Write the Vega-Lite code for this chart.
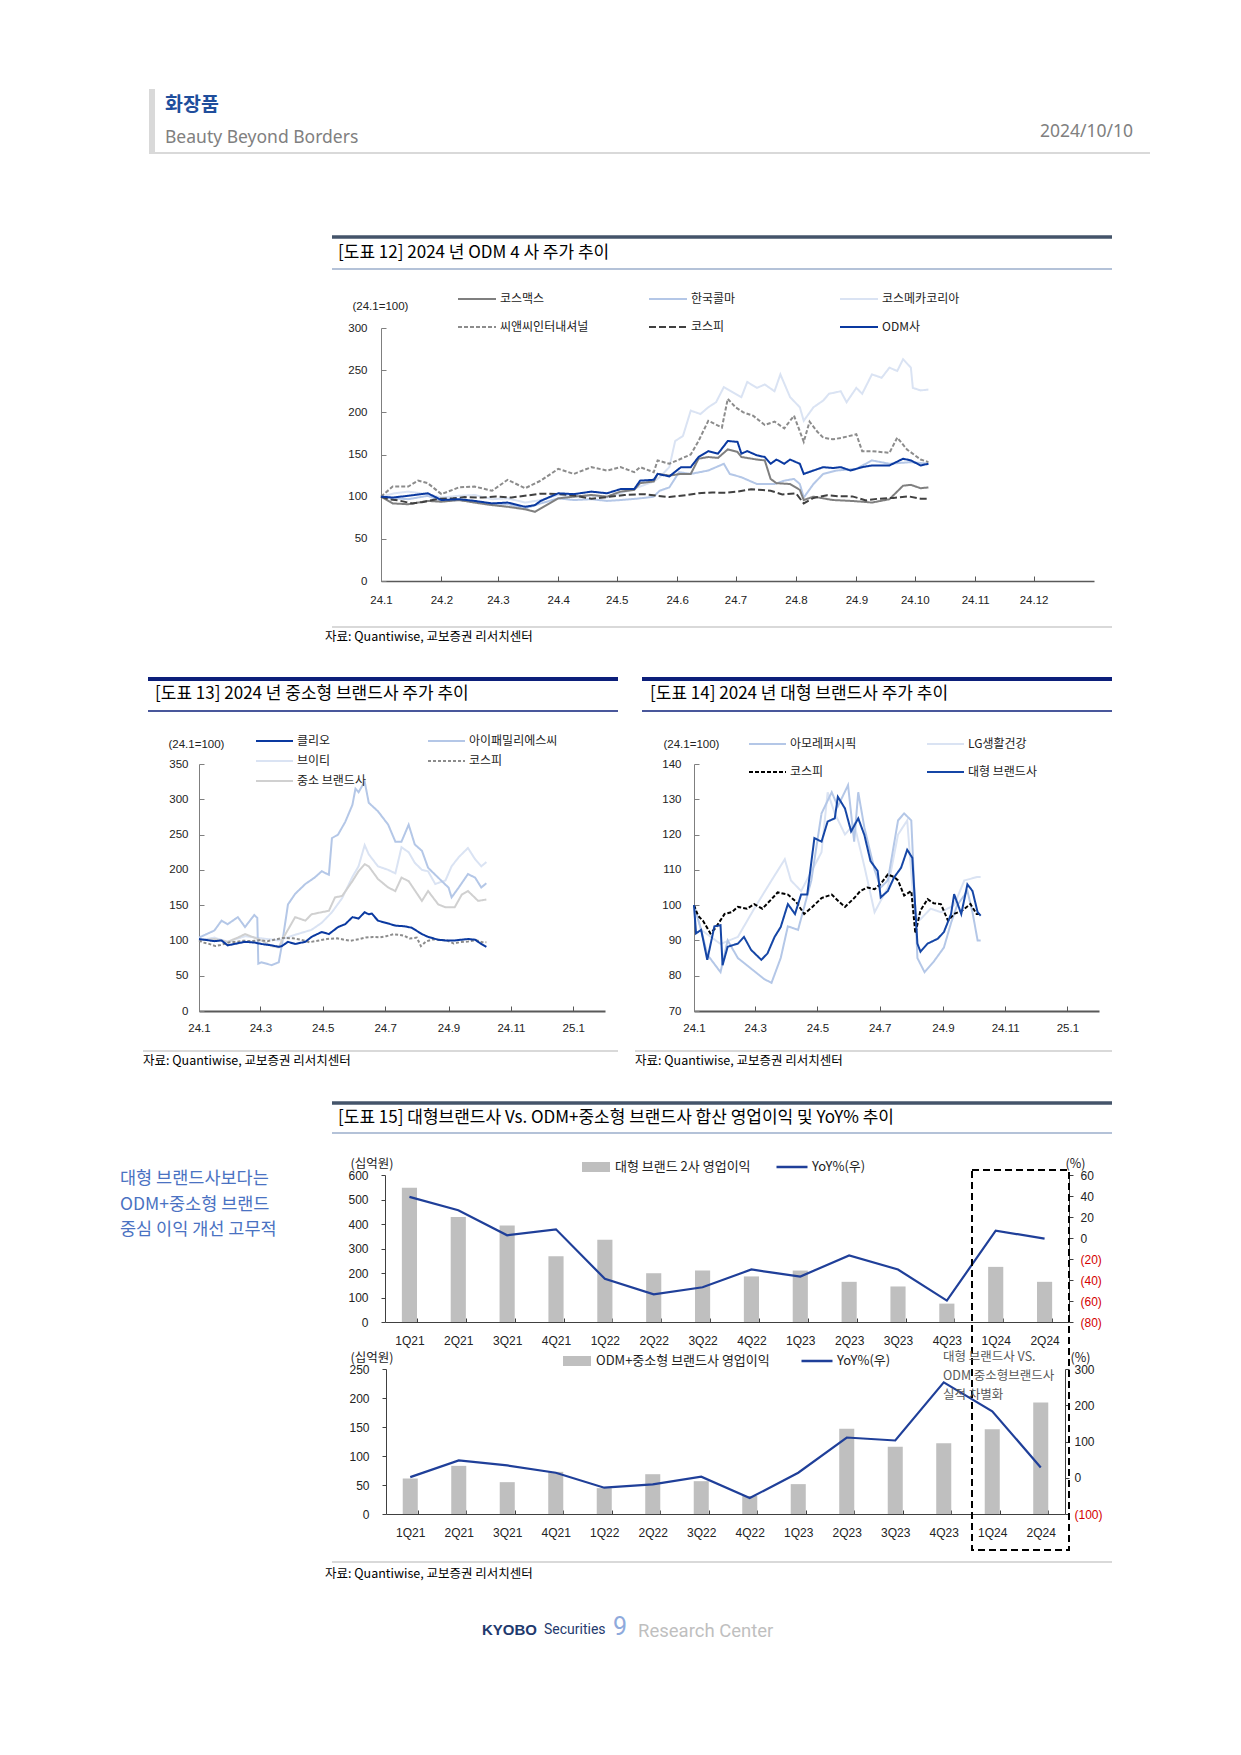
{
"$schema": "https://vega.github.io/schema/vega-lite/v6.json",
"width": 1241, "height": 1755, "autosize": {"type": "none"}, "padding": 0, "background": "white",
"config": {"view": {"stroke": null}, "font": "Noto Sans CJK KR",
 "axis": {"grid": false, "labelFont": "Liberation Sans", "labelFontSize": 12, "labelColor": "#222222", "domainColor": "#7f7f7f", "tickColor": "#7f7f7f", "labelFlush": false, "labelOverlap": false, "titleFont": "Noto Sans CJK KR", "titleFontWeight": "normal", "titleColor": "#222222", "titleFontSize": 12},
 "legend": {"labelFont": "Noto Sans CJK KR", "labelFontSize": 12, "labelColor": "#222222", "padding": 0, "labelLimit": 0}},
"datasets": {
"kospi": [
{"series":"코스피","date":"2024-01-01","value":100},{"series":"코스피","date":"2024-01-05","value":97},{"series":"코스피","date":"2024-01-10","value":95.5},{"series":"코스피","date":"2024-01-17","value":92},{"series":"코스피","date":"2024-01-22","value":93.5},{"series":"코스피","date":"2024-01-31","value":97.5},{"series":"코스피","date":"2024-02-07","value":98},{"series":"코스피","date":"2024-02-13","value":99.5},{"series":"코스피","date":"2024-02-22","value":99},{"series":"코스피","date":"2024-02-29","value":100.3},{"series":"코스피","date":"2024-03-08","value":99},{"series":"코스피","date":"2024-03-17","value":101.7},{"series":"코스피","date":"2024-03-23","value":103.6},{"series":"코스피","date":"2024-04-02","value":103},{"series":"코스피","date":"2024-04-10","value":101},{"series":"코스피","date":"2024-04-18","value":97.5},{"series":"코스피","date":"2024-04-26","value":99.5},{"series":"코스피","date":"2024-05-05","value":102},{"series":"코스피","date":"2024-05-15","value":103},{"series":"코스피","date":"2024-05-22","value":101},{"series":"코스피","date":"2024-05-28","value":99.5},{"series":"코스피","date":"2024-06-06","value":102},{"series":"코스피","date":"2024-06-12","value":104},{"series":"코스피","date":"2024-06-19","value":105},{"series":"코스피","date":"2024-06-26","value":104.5},{"series":"코스피","date":"2024-07-02","value":106},{"series":"코스피","date":"2024-07-09","value":108.7},{"series":"코스피","date":"2024-07-15","value":108},{"series":"코스피","date":"2024-07-19","value":107},{"series":"코스피","date":"2024-07-25","value":102.7},{"series":"코스피","date":"2024-08-01","value":104},{"series":"코스피","date":"2024-08-05","value":92},{"series":"코스피","date":"2024-08-10","value":98.5},{"series":"코스피","date":"2024-08-17","value":101.7},{"series":"코스피","date":"2024-08-23","value":100.5},{"series":"코스피","date":"2024-08-30","value":100.3},{"series":"코스피","date":"2024-09-06","value":95.6},{"series":"코스피","date":"2024-09-12","value":97.5},{"series":"코스피","date":"2024-09-20","value":98.5},{"series":"코스피","date":"2024-09-28","value":100.3},{"series":"코스피","date":"2024-10-04","value":97.5},{"series":"코스피","date":"2024-10-08","value":97.5}
],
"c12": [
{"series":"코스메카코리아","date":"2024-01-01","value":100},{"series":"코스메카코리아","date":"2024-01-08","value":104},{"series":"코스메카코리아","date":"2024-01-15","value":106},{"series":"코스메카코리아","date":"2024-01-25","value":103},{"series":"코스메카코리아","date":"2024-02-01","value":99},{"series":"코스메카코리아","date":"2024-02-10","value":101},{"series":"코스메카코리아","date":"2024-02-18","value":102},{"series":"코스메카코리아","date":"2024-02-27","value":97},{"series":"코스메카코리아","date":"2024-03-06","value":98},{"series":"코스메카코리아","date":"2024-03-15","value":93},{"series":"코스메카코리아","date":"2024-03-23","value":96},{"series":"코스메카코리아","date":"2024-04-01","value":102},{"series":"코스메카코리아","date":"2024-04-09","value":100},{"series":"코스메카코리아","date":"2024-04-18","value":101},{"series":"코스메카코리아","date":"2024-04-26","value":99},{"series":"코스메카코리아","date":"2024-05-03","value":104},{"series":"코스메카코리아","date":"2024-05-13","value":112},{"series":"코스메카코리아","date":"2024-05-20","value":118},{"series":"코스메카코리아","date":"2024-05-23","value":123},{"series":"코스메카코리아","date":"2024-05-28","value":135},{"series":"코스메카코리아","date":"2024-05-31","value":166},{"series":"코스메카코리아","date":"2024-06-04","value":172},{"series":"코스메카코리아","date":"2024-06-08","value":202},{"series":"코스메카코리아","date":"2024-06-13","value":198},{"series":"코스메카코리아","date":"2024-06-17","value":206},{"series":"코스메카코리아","date":"2024-06-21","value":212},{"series":"코스메카코리아","date":"2024-06-25","value":230},{"series":"코스메카코리아","date":"2024-07-01","value":222},{"series":"코스메카코리아","date":"2024-07-04","value":218},{"series":"코스메카코리아","date":"2024-07-07","value":236},{"series":"코스메카코리아","date":"2024-07-12","value":229},{"series":"코스메카코리아","date":"2024-07-16","value":233},{"series":"코스메카코리아","date":"2024-07-21","value":225},{"series":"코스메카코리아","date":"2024-07-24","value":245},{"series":"코스메카코리아","date":"2024-07-29","value":218},{"series":"코스메카코리아","date":"2024-08-03","value":206},{"series":"코스메카코리아","date":"2024-08-05","value":190},{"series":"코스메카코리아","date":"2024-08-10","value":206},{"series":"코스메카코리아","date":"2024-08-15","value":214},{"series":"코스메카코리아","date":"2024-08-18","value":222},{"series":"코스메카코리아","date":"2024-08-24","value":225},{"series":"코스메카코리아","date":"2024-08-27","value":212},{"series":"코스메카코리아","date":"2024-09-01","value":229},{"series":"코스메카코리아","date":"2024-09-04","value":222},{"series":"코스메카코리아","date":"2024-09-09","value":245},{"series":"코스메카코리아","date":"2024-09-14","value":241},{"series":"코스메카코리아","date":"2024-09-18","value":253},{"series":"코스메카코리아","date":"2024-09-22","value":249},{"series":"코스메카코리아","date":"2024-09-25","value":263},{"series":"코스메카코리아","date":"2024-09-29","value":253},{"series":"코스메카코리아","date":"2024-09-30","value":229},{"series":"코스메카코리아","date":"2024-10-04","value":226},{"series":"코스메카코리아","date":"2024-10-08","value":227},
{"series":"한국콜마","date":"2024-01-01","value":100},{"series":"한국콜마","date":"2024-01-08","value":98},{"series":"한국콜마","date":"2024-01-15","value":97},{"series":"한국콜마","date":"2024-01-25","value":101},{"series":"한국콜마","date":"2024-02-01","value":95},{"series":"한국콜마","date":"2024-02-10","value":96},{"series":"한국콜마","date":"2024-02-18","value":94},{"series":"한국콜마","date":"2024-02-27","value":90},{"series":"한국콜마","date":"2024-03-06","value":91},{"series":"한국콜마","date":"2024-03-15","value":86},{"series":"한국콜마","date":"2024-03-23","value":92},{"series":"한국콜마","date":"2024-04-01","value":98},{"series":"한국콜마","date":"2024-04-09","value":96},{"series":"한국콜마","date":"2024-04-18","value":97},{"series":"한국콜마","date":"2024-04-26","value":95},{"series":"한국콜마","date":"2024-05-03","value":96},{"series":"한국콜마","date":"2024-05-13","value":98},{"series":"한국콜마","date":"2024-05-20","value":100},{"series":"한국콜마","date":"2024-05-23","value":107},{"series":"한국콜마","date":"2024-05-28","value":111},{"series":"한국콜마","date":"2024-06-02","value":129},{"series":"한국콜마","date":"2024-06-08","value":127},{"series":"한국콜마","date":"2024-06-17","value":131},{"series":"한국콜마","date":"2024-06-25","value":139},{"series":"한국콜마","date":"2024-06-28","value":127},{"series":"한국콜마","date":"2024-07-04","value":123},{"series":"한국콜마","date":"2024-07-12","value":115},{"series":"한국콜마","date":"2024-07-21","value":115},{"series":"한국콜마","date":"2024-07-26","value":119},{"series":"한국콜마","date":"2024-07-31","value":121},{"series":"한국콜마","date":"2024-08-03","value":115},{"series":"한국콜마","date":"2024-08-05","value":99},{"series":"한국콜마","date":"2024-08-10","value":115},{"series":"한국콜마","date":"2024-08-15","value":127},{"series":"한국콜마","date":"2024-08-22","value":131},{"series":"한국콜마","date":"2024-09-01","value":133},{"series":"한국콜마","date":"2024-09-09","value":143},{"series":"한국콜마","date":"2024-09-18","value":139},{"series":"한국콜마","date":"2024-09-29","value":141},{"series":"한국콜마","date":"2024-10-08","value":139},
{"series":"코스맥스","date":"2024-01-01","value":100},{"series":"코스맥스","date":"2024-01-07","value":92},{"series":"코스맥스","date":"2024-01-15","value":91},{"series":"코스맥스","date":"2024-01-25","value":95},{"series":"코스맥스","date":"2024-02-01","value":94},{"series":"코스맥스","date":"2024-02-10","value":96},{"series":"코스맥스","date":"2024-02-18","value":93},{"series":"코스맥스","date":"2024-02-27","value":90},{"series":"코스맥스","date":"2024-03-06","value":88},{"series":"코스맥스","date":"2024-03-15","value":85},{"series":"코스맥스","date":"2024-03-20","value":82},{"series":"코스맥스","date":"2024-03-23","value":86},{"series":"코스맥스","date":"2024-04-01","value":98},{"series":"코스맥스","date":"2024-04-09","value":100},{"series":"코스맥스","date":"2024-04-18","value":102},{"series":"코스맥스","date":"2024-04-26","value":100},{"series":"코스맥스","date":"2024-05-03","value":106},{"series":"코스맥스","date":"2024-05-10","value":108},{"series":"코스맥스","date":"2024-05-13","value":116},{"series":"코스맥스","date":"2024-05-20","value":118},{"series":"코스맥스","date":"2024-05-22","value":127},{"series":"코스맥스","date":"2024-05-28","value":125},{"series":"코스맥스","date":"2024-06-03","value":127},{"series":"코스맥스","date":"2024-06-08","value":127},{"series":"코스맥스","date":"2024-06-12","value":145},{"series":"코스맥스","date":"2024-06-17","value":147},{"series":"코스맥스","date":"2024-06-22","value":146},{"series":"코스맥스","date":"2024-06-27","value":156},{"series":"코스맥스","date":"2024-07-02","value":153},{"series":"코스맥스","date":"2024-07-04","value":147},{"series":"코스맥스","date":"2024-07-12","value":144},{"series":"코스맥스","date":"2024-07-16","value":143},{"series":"코스맥스","date":"2024-07-19","value":121},{"series":"코스맥스","date":"2024-07-22","value":116},{"series":"코스맥스","date":"2024-07-29","value":115},{"series":"코스맥스","date":"2024-08-03","value":108},{"series":"코스맥스","date":"2024-08-05","value":96},{"series":"코스맥스","date":"2024-08-10","value":100},{"series":"코스맥스","date":"2024-08-15","value":98},{"series":"코스맥스","date":"2024-08-20","value":96},{"series":"코스맥스","date":"2024-08-29","value":95},{"series":"코스맥스","date":"2024-09-04","value":94},{"series":"코스맥스","date":"2024-09-09","value":93},{"series":"코스맥스","date":"2024-09-18","value":97},{"series":"코스맥스","date":"2024-09-25","value":113},{"series":"코스맥스","date":"2024-09-29","value":114},{"series":"코스맥스","date":"2024-10-04","value":110},{"series":"코스맥스","date":"2024-10-08","value":111},
{"series":"씨앤씨인터내셔널","date":"2024-01-01","value":100},{"series":"씨앤씨인터내셔널","date":"2024-01-07","value":112},{"series":"씨앤씨인터내셔널","date":"2024-01-15","value":112},{"series":"씨앤씨인터내셔널","date":"2024-01-20","value":119},{"series":"씨앤씨인터내셔널","date":"2024-01-25","value":116},{"series":"씨앤씨인터내셔널","date":"2024-02-01","value":103},{"series":"씨앤씨인터내셔널","date":"2024-02-10","value":111},{"series":"씨앤씨인터내셔널","date":"2024-02-18","value":112},{"series":"씨앤씨인터내셔널","date":"2024-02-27","value":107},{"series":"씨앤씨인터내셔널","date":"2024-03-06","value":120},{"series":"씨앤씨인터내셔널","date":"2024-03-15","value":110},{"series":"씨앤씨인터내셔널","date":"2024-03-23","value":119},{"series":"씨앤씨인터내셔널","date":"2024-04-01","value":133},{"series":"씨앤씨인터내셔널","date":"2024-04-09","value":127},{"series":"씨앤씨인터내셔널","date":"2024-04-18","value":135},{"series":"씨앤씨인터내셔널","date":"2024-04-26","value":131},{"series":"씨앤씨인터내셔널","date":"2024-05-03","value":135},{"series":"씨앤씨인터내셔널","date":"2024-05-10","value":129},{"series":"씨앤씨인터내셔널","date":"2024-05-13","value":135},{"series":"씨앤씨인터내셔널","date":"2024-05-20","value":129},{"series":"씨앤씨인터내셔널","date":"2024-05-22","value":143},{"series":"씨앤씨인터내셔널","date":"2024-05-28","value":139},{"series":"씨앤씨인터내셔널","date":"2024-06-03","value":145},{"series":"씨앤씨인터내셔널","date":"2024-06-08","value":150},{"series":"씨앤씨인터내셔널","date":"2024-06-12","value":166},{"series":"씨앤씨인터내셔널","date":"2024-06-17","value":190},{"series":"씨앤씨인터내셔널","date":"2024-06-24","value":182},{"series":"씨앤씨인터내셔널","date":"2024-06-27","value":216},{"series":"씨앤씨인터내셔널","date":"2024-07-01","value":206},{"series":"씨앤씨인터내셔널","date":"2024-07-05","value":200},{"series":"씨앤씨인터내셔널","date":"2024-07-10","value":196},{"series":"씨앤씨인터내셔널","date":"2024-07-16","value":185},{"series":"씨앤씨인터내셔널","date":"2024-07-21","value":189},{"series":"씨앤씨인터내셔널","date":"2024-07-26","value":181},{"series":"씨앤씨인터내셔널","date":"2024-07-31","value":196},{"series":"씨앤씨인터내셔널","date":"2024-08-05","value":165},{"series":"씨앤씨인터내셔널","date":"2024-08-08","value":189},{"series":"씨앤씨인터내셔널","date":"2024-08-12","value":177},{"series":"씨앤씨인터내셔널","date":"2024-08-15","value":170},{"series":"씨앤씨인터내셔널","date":"2024-08-20","value":168},{"series":"씨앤씨인터내셔널","date":"2024-08-25","value":170},{"series":"씨앤씨인터내셔널","date":"2024-09-01","value":174},{"series":"씨앤씨인터내셔널","date":"2024-09-04","value":154},{"series":"씨앤씨인터내셔널","date":"2024-09-09","value":154},{"series":"씨앤씨인터내셔널","date":"2024-09-18","value":152},{"series":"씨앤씨인터내셔널","date":"2024-09-22","value":170},{"series":"씨앤씨인터내셔널","date":"2024-09-27","value":156},{"series":"씨앤씨인터내셔널","date":"2024-10-04","value":144},{"series":"씨앤씨인터내셔널","date":"2024-10-08","value":141},
{"series":"ODM사","date":"2024-01-01","value":100},{"series":"ODM사","date":"2024-01-07","value":99},{"series":"ODM사","date":"2024-01-15","value":101},{"series":"ODM사","date":"2024-01-25","value":104},{"series":"ODM사","date":"2024-02-01","value":96},{"series":"ODM사","date":"2024-02-10","value":97},{"series":"ODM사","date":"2024-02-18","value":95},{"series":"ODM사","date":"2024-02-27","value":92},{"series":"ODM사","date":"2024-03-06","value":93},{"series":"ODM사","date":"2024-03-15","value":88},{"series":"ODM사","date":"2024-03-20","value":90},{"series":"ODM사","date":"2024-03-23","value":95},{"series":"ODM사","date":"2024-04-01","value":104},{"series":"ODM사","date":"2024-04-09","value":103},{"series":"ODM사","date":"2024-04-18","value":106},{"series":"ODM사","date":"2024-04-26","value":104},{"series":"ODM사","date":"2024-05-03","value":109},{"series":"ODM사","date":"2024-05-10","value":109},{"series":"ODM사","date":"2024-05-13","value":119},{"series":"ODM사","date":"2024-05-20","value":120},{"series":"ODM사","date":"2024-05-22","value":127},{"series":"ODM사","date":"2024-05-28","value":124},{"series":"ODM사","date":"2024-06-03","value":135},{"series":"ODM사","date":"2024-06-08","value":135},{"series":"ODM사","date":"2024-06-12","value":147},{"series":"ODM사","date":"2024-06-17","value":154},{"series":"ODM사","date":"2024-06-22","value":151},{"series":"ODM사","date":"2024-06-27","value":166},{"series":"ODM사","date":"2024-07-02","value":165},{"series":"ODM사","date":"2024-07-04","value":151},{"series":"ODM사","date":"2024-07-07","value":154},{"series":"ODM사","date":"2024-07-12","value":149},{"series":"ODM사","date":"2024-07-16","value":147},{"series":"ODM사","date":"2024-07-19","value":139},{"series":"ODM사","date":"2024-07-22","value":144},{"series":"ODM사","date":"2024-07-26","value":139},{"series":"ODM사","date":"2024-07-29","value":144},{"series":"ODM사","date":"2024-08-03","value":139},{"series":"ODM사","date":"2024-08-05","value":127},{"series":"ODM사","date":"2024-08-10","value":131},{"series":"ODM사","date":"2024-08-15","value":135},{"series":"ODM사","date":"2024-08-20","value":134},{"series":"ODM사","date":"2024-08-24","value":135},{"series":"ODM사","date":"2024-08-29","value":131},{"series":"ODM사","date":"2024-09-04","value":135},{"series":"ODM사","date":"2024-09-09","value":137},{"series":"ODM사","date":"2024-09-18","value":137},{"series":"ODM사","date":"2024-09-25","value":145},{"series":"ODM사","date":"2024-09-29","value":143},{"series":"ODM사","date":"2024-10-04","value":137},{"series":"ODM사","date":"2024-10-08","value":139}
],
"c13": [
{"series":"브이티","date":"2024-01-01","value":100},{"series":"브이티","date":"2024-01-16","value":104},{"series":"브이티","date":"2024-01-29","value":98},{"series":"브이티","date":"2024-02-15","value":106},{"series":"브이티","date":"2024-03-02","value":103},{"series":"브이티","date":"2024-03-19","value":100},{"series":"브이티","date":"2024-04-04","value":108},{"series":"브이티","date":"2024-04-20","value":115},{"series":"브이티","date":"2024-04-30","value":125},{"series":"브이티","date":"2024-05-10","value":140},{"series":"브이티","date":"2024-05-20","value":160},{"series":"브이티","date":"2024-05-30","value":190},{"series":"브이티","date":"2024-06-05","value":205},{"series":"브이티","date":"2024-06-11","value":235},{"series":"브이티","date":"2024-06-15","value":222},{"series":"브이티","date":"2024-06-24","value":205},{"series":"브이티","date":"2024-07-04","value":200},{"series":"브이티","date":"2024-07-11","value":195},{"series":"브이티","date":"2024-07-17","value":232},{"series":"브이티","date":"2024-07-24","value":225},{"series":"브이티","date":"2024-07-30","value":210},{"series":"브이티","date":"2024-08-06","value":200},{"series":"브이티","date":"2024-08-12","value":198},{"series":"브이티","date":"2024-08-19","value":180},{"series":"브이티","date":"2024-08-29","value":185},{"series":"브이티","date":"2024-09-04","value":205},{"series":"브이티","date":"2024-09-11","value":218},{"series":"브이티","date":"2024-09-20","value":231},{"series":"브이티","date":"2024-09-27","value":215},{"series":"브이티","date":"2024-10-03","value":205},{"series":"브이티","date":"2024-10-08","value":211},
{"series":"아이패밀리에스씨","date":"2024-01-01","value":104},{"series":"아이패밀리에스씨","date":"2024-01-16","value":114},{"series":"아이패밀리에스씨","date":"2024-01-23","value":128},{"series":"아이패밀리에스씨","date":"2024-01-29","value":123},{"series":"아이패밀리에스씨","date":"2024-02-08","value":133},{"series":"아이패밀리에스씨","date":"2024-02-15","value":119},{"series":"아이패밀리에스씨","date":"2024-02-24","value":136},{"series":"아이패밀리에스씨","date":"2024-02-27","value":132},{"series":"아이패밀리에스씨","date":"2024-02-28","value":67},{"series":"아이패밀리에스씨","date":"2024-03-02","value":69},{"series":"아이패밀리에스씨","date":"2024-03-12","value":65},{"series":"아이패밀리에스씨","date":"2024-03-19","value":69},{"series":"아이패밀리에스씨","date":"2024-03-22","value":93},{"series":"아이패밀리에스씨","date":"2024-03-28","value":151},{"series":"아이패밀리에스씨","date":"2024-04-04","value":166},{"series":"아이패밀리에스씨","date":"2024-04-14","value":180},{"series":"아이패밀리에스씨","date":"2024-04-23","value":189},{"series":"아이패밀리에스씨","date":"2024-04-30","value":198},{"series":"아이패밀리에스씨","date":"2024-05-07","value":193},{"series":"아이패밀리에스씨","date":"2024-05-10","value":245},{"series":"아이패밀리에스씨","date":"2024-05-16","value":250},{"series":"아이패밀리에스씨","date":"2024-05-23","value":268},{"series":"아이패밀리에스씨","date":"2024-05-30","value":292},{"series":"아이패밀리에스씨","date":"2024-06-02","value":315},{"series":"아이패밀리에스씨","date":"2024-06-05","value":310},{"series":"아이패밀리에스씨","date":"2024-06-11","value":325},{"series":"아이패밀리에스씨","date":"2024-06-15","value":295},{"series":"아이패밀리에스씨","date":"2024-06-24","value":283},{"series":"아이패밀리에스씨","date":"2024-07-04","value":264},{"series":"아이패밀리에스씨","date":"2024-07-11","value":240},{"series":"아이패밀리에스씨","date":"2024-07-17","value":240},{"series":"아이패밀리에스씨","date":"2024-07-24","value":264},{"series":"아이패밀리에스씨","date":"2024-07-30","value":236},{"series":"아이패밀리에스씨","date":"2024-08-06","value":227},{"series":"아이패밀리에스씨","date":"2024-08-12","value":203},{"series":"아이패밀리에스씨","date":"2024-08-19","value":193},{"series":"아이패밀리에스씨","date":"2024-08-29","value":179},{"series":"아이패밀리에스씨","date":"2024-09-01","value":175},{"series":"아이패밀리에스씨","date":"2024-09-04","value":161},{"series":"아이패밀리에스씨","date":"2024-09-11","value":175},{"series":"아이패밀리에스씨","date":"2024-09-20","value":194},{"series":"아이패밀리에스씨","date":"2024-09-27","value":189},{"series":"아이패밀리에스씨","date":"2024-10-03","value":175},{"series":"아이패밀리에스씨","date":"2024-10-08","value":181},
{"series":"중소 브랜드사","date":"2024-01-01","value":100},{"series":"중소 브랜드사","date":"2024-01-16","value":102},{"series":"중소 브랜드사","date":"2024-01-29","value":98},{"series":"중소 브랜드사","date":"2024-02-08","value":104},{"series":"중소 브랜드사","date":"2024-02-15","value":109},{"series":"중소 브랜드사","date":"2024-02-24","value":104},{"series":"중소 브랜드사","date":"2024-03-02","value":100},{"series":"중소 브랜드사","date":"2024-03-12","value":92},{"series":"중소 브랜드사","date":"2024-03-19","value":90},{"series":"중소 브랜드사","date":"2024-03-22","value":100},{"series":"중소 브랜드사","date":"2024-04-04","value":133},{"series":"중소 브랜드사","date":"2024-04-14","value":128},{"series":"중소 브랜드사","date":"2024-04-20","value":137},{"series":"중소 브랜드사","date":"2024-04-30","value":140},{"series":"중소 브랜드사","date":"2024-05-07","value":142},{"series":"중소 브랜드사","date":"2024-05-13","value":161},{"series":"중소 브랜드사","date":"2024-05-20","value":163},{"series":"중소 브랜드사","date":"2024-05-30","value":184},{"series":"중소 브랜드사","date":"2024-06-05","value":198},{"series":"중소 브랜드사","date":"2024-06-11","value":208},{"series":"중소 브랜드사","date":"2024-06-15","value":205},{"series":"중소 브랜드사","date":"2024-06-24","value":187},{"series":"중소 브랜드사","date":"2024-07-04","value":175},{"series":"중소 브랜드사","date":"2024-07-11","value":170},{"series":"중소 브랜드사","date":"2024-07-17","value":189},{"series":"중소 브랜드사","date":"2024-07-24","value":184},{"series":"중소 브랜드사","date":"2024-08-06","value":156},{"series":"중소 브랜드사","date":"2024-08-12","value":170},{"series":"중소 브랜드사","date":"2024-08-22","value":151},{"series":"중소 브랜드사","date":"2024-08-29","value":147},{"series":"중소 브랜드사","date":"2024-09-07","value":147},{"series":"중소 브랜드사","date":"2024-09-14","value":165},{"series":"중소 브랜드사","date":"2024-09-20","value":170},{"series":"중소 브랜드사","date":"2024-09-30","value":156},{"series":"중소 브랜드사","date":"2024-10-08","value":158},
{"series":"클리오","date":"2024-01-01","value":102},{"series":"클리오","date":"2024-01-16","value":99},{"series":"클리오","date":"2024-01-23","value":100},{"series":"클리오","date":"2024-01-29","value":93},{"series":"클리오","date":"2024-02-08","value":96},{"series":"클리오","date":"2024-02-15","value":98},{"series":"클리오","date":"2024-02-24","value":97},{"series":"클리오","date":"2024-03-02","value":95},{"series":"클리오","date":"2024-03-12","value":93},{"series":"클리오","date":"2024-03-19","value":91},{"series":"클리오","date":"2024-03-22","value":92},{"series":"클리오","date":"2024-03-28","value":98},{"series":"클리오","date":"2024-04-04","value":95},{"series":"클리오","date":"2024-04-14","value":98},{"series":"클리오","date":"2024-04-20","value":105},{"series":"클리오","date":"2024-04-30","value":112},{"series":"클리오","date":"2024-05-07","value":109},{"series":"클리오","date":"2024-05-16","value":119},{"series":"클리오","date":"2024-05-23","value":123},{"series":"클리오","date":"2024-05-30","value":133},{"series":"클리오","date":"2024-06-05","value":131},{"series":"클리오","date":"2024-06-11","value":140},{"series":"클리오","date":"2024-06-15","value":137},{"series":"클리오","date":"2024-06-18","value":138},{"series":"클리오","date":"2024-06-24","value":128},{"series":"클리오","date":"2024-07-04","value":124},{"series":"클리오","date":"2024-07-11","value":121},{"series":"클리오","date":"2024-07-20","value":120},{"series":"클리오","date":"2024-07-27","value":118},{"series":"클리오","date":"2024-08-06","value":109},{"series":"클리오","date":"2024-08-12","value":105},{"series":"클리오","date":"2024-08-22","value":101},{"series":"클리오","date":"2024-08-29","value":100},{"series":"클리오","date":"2024-09-07","value":100},{"series":"클리오","date":"2024-09-20","value":102},{"series":"클리오","date":"2024-09-27","value":101},{"series":"클리오","date":"2024-10-03","value":95},{"series":"클리오","date":"2024-10-08","value":91}
],
"c14": [
{"series":"LG생활건강","date":"2024-01-01","value":100},{"series":"LG생활건강","date":"2024-01-08","value":93},{"series":"LG생활건강","date":"2024-01-27","value":89},{"series":"LG생활건강","date":"2024-02-13","value":91},{"series":"LG생활건강","date":"2024-02-29","value":99},{"series":"LG생활건강","date":"2024-03-17","value":107},{"series":"LG생활건강","date":"2024-03-30","value":113},{"series":"LG생활건강","date":"2024-04-05","value":107},{"series":"LG생활건강","date":"2024-04-15","value":104},{"series":"LG생활건강","date":"2024-05-05","value":115},{"series":"LG생활건강","date":"2024-05-11","value":132},{"series":"LG생활건강","date":"2024-05-18","value":126},{"series":"LG생활건강","date":"2024-05-28","value":120},{"series":"LG생활건강","date":"2024-06-06","value":123},{"series":"LG생활건강","date":"2024-06-16","value":111},{"series":"LG생활건강","date":"2024-06-26","value":98},{"series":"LG생활건강","date":"2024-07-09","value":105},{"series":"LG생활건강","date":"2024-07-19","value":120},{"series":"LG생활건강","date":"2024-07-28","value":124},{"series":"LG생활건강","date":"2024-08-04","value":98},{"series":"LG생활건강","date":"2024-08-10","value":96},{"series":"LG생활건강","date":"2024-08-20","value":99},{"series":"LG생활건강","date":"2024-08-30","value":98},{"series":"LG생활건강","date":"2024-09-12","value":100},{"series":"LG생활건강","date":"2024-09-22","value":107},{"series":"LG생활건강","date":"2024-10-05","value":108},{"series":"LG생활건강","date":"2024-10-08","value":108},
{"series":"아모레퍼시픽","date":"2024-01-01","value":100},{"series":"아모레퍼시픽","date":"2024-01-08","value":93},{"series":"아모레퍼시픽","date":"2024-01-14","value":86},{"series":"아모레퍼시픽","date":"2024-01-27","value":81},{"series":"아모레퍼시픽","date":"2024-02-03","value":90},{"series":"아모레퍼시픽","date":"2024-02-13","value":85},{"series":"아모레퍼시픽","date":"2024-02-26","value":82},{"series":"아모레퍼시픽","date":"2024-03-10","value":79},{"series":"아모레퍼시픽","date":"2024-03-17","value":78},{"series":"아모레퍼시픽","date":"2024-03-26","value":85},{"series":"아모레퍼시픽","date":"2024-04-02","value":94},{"series":"아모레퍼시픽","date":"2024-04-12","value":93},{"series":"아모레퍼시픽","date":"2024-04-25","value":107},{"series":"아모레퍼시픽","date":"2024-05-05","value":126},{"series":"아모레퍼시픽","date":"2024-05-15","value":132},{"series":"아모레퍼시픽","date":"2024-05-21","value":128},{"series":"아모레퍼시픽","date":"2024-05-31","value":134},{"series":"아모레퍼시픽","date":"2024-06-06","value":118},{"series":"아모레퍼시픽","date":"2024-06-10","value":132},{"series":"아모레퍼시픽","date":"2024-06-16","value":122},{"series":"아모레퍼시픽","date":"2024-06-26","value":110},{"series":"아모레퍼시픽","date":"2024-07-02","value":105},{"series":"아모레퍼시픽","date":"2024-07-09","value":107},{"series":"아모레퍼시픽","date":"2024-07-19","value":124},{"series":"아모레퍼시픽","date":"2024-07-25","value":126},{"series":"아모레퍼시픽","date":"2024-08-01","value":124},{"series":"아모레퍼시픽","date":"2024-08-07","value":85},{"series":"아모레퍼시픽","date":"2024-08-14","value":81},{"series":"아모레퍼시픽","date":"2024-08-23","value":84},{"series":"아모레퍼시픽","date":"2024-09-02","value":88},{"series":"아모레퍼시픽","date":"2024-09-09","value":95},{"series":"아모레퍼시픽","date":"2024-09-15","value":100},{"series":"아모레퍼시픽","date":"2024-09-25","value":104},{"series":"아모레퍼시픽","date":"2024-09-30","value":98},{"series":"아모레퍼시픽","date":"2024-10-05","value":90},{"series":"아모레퍼시픽","date":"2024-10-08","value":90},
{"series":"대형 브랜드사","date":"2024-01-01","value":100},{"series":"대형 브랜드사","date":"2024-01-03","value":92},{"series":"대형 브랜드사","date":"2024-01-08","value":93},{"series":"대형 브랜드사","date":"2024-01-14","value":84.5},{"series":"대형 브랜드사","date":"2024-01-21","value":94},{"series":"대형 브랜드사","date":"2024-01-27","value":94.3},{"series":"대형 브랜드사","date":"2024-01-29","value":83},{"series":"대형 브랜드사","date":"2024-02-03","value":88.2},{"series":"대형 브랜드사","date":"2024-02-13","value":89.1},{"series":"대형 브랜드사","date":"2024-02-19","value":91},{"series":"대형 브랜드사","date":"2024-02-26","value":87.3},{"series":"대형 브랜드사","date":"2024-03-07","value":84.5},{"series":"대형 브랜드사","date":"2024-03-13","value":86.3},{"series":"대형 브랜드사","date":"2024-03-20","value":91},{"series":"대형 브랜드사","date":"2024-03-26","value":93.8},{"series":"대형 브랜드사","date":"2024-04-02","value":100.3},{"series":"대형 브랜드사","date":"2024-04-09","value":97.5},{"series":"대형 브랜드사","date":"2024-04-15","value":103},{"series":"대형 브랜드사","date":"2024-04-21","value":103},{"series":"대형 브랜드사","date":"2024-04-28","value":119},{"series":"대형 브랜드사","date":"2024-05-05","value":118},{"series":"대형 브랜드사","date":"2024-05-11","value":123.7},{"series":"대형 브랜드사","date":"2024-05-18","value":124.6},{"series":"대형 브랜드사","date":"2024-05-21","value":130.7},{"series":"대형 브랜드사","date":"2024-05-28","value":127.4},{"series":"대형 브랜드사","date":"2024-06-03","value":120.9},{"series":"대형 브랜드사","date":"2024-06-10","value":124.6},{"series":"대형 브랜드사","date":"2024-06-16","value":119.9},{"series":"대형 브랜드사","date":"2024-06-22","value":112.5},{"series":"대형 브랜드사","date":"2024-06-29","value":109.7},{"series":"대형 브랜드사","date":"2024-07-02","value":102.2},{"series":"대형 브랜드사","date":"2024-07-09","value":104},{"series":"대형 브랜드사","date":"2024-07-15","value":107.8},{"series":"대형 브랜드사","date":"2024-07-22","value":110.6},{"series":"대형 브랜드사","date":"2024-07-28","value":115.7},{"series":"대형 브랜드사","date":"2024-08-02","value":113.4},{"series":"대형 브랜드사","date":"2024-08-07","value":89.1},{"series":"대형 브랜드사","date":"2024-08-10","value":86.8},{"series":"대형 브랜드사","date":"2024-08-17","value":89.1},{"series":"대형 브랜드사","date":"2024-08-27","value":90.5},{"series":"대형 브랜드사","date":"2024-09-02","value":92.4},{"series":"대형 브랜드사","date":"2024-09-09","value":97.5},{"series":"대형 브랜드사","date":"2024-09-12","value":103.1},{"series":"대형 브랜드사","date":"2024-09-19","value":97.5},{"series":"대형 브랜드사","date":"2024-09-25","value":105.9},{"series":"대형 브랜드사","date":"2024-09-30","value":104},{"series":"대형 브랜드사","date":"2024-10-05","value":98},{"series":"대형 브랜드사","date":"2024-10-08","value":97}
],
"q15": [
{"q":"1Q21","big":548,"bigYoY":39.2,"small":61.2,"smallYoY":1.8},
{"q":"2Q21","big":429,"bigYoY":26.5,"small":83,"smallYoY":47.7},
{"q":"3Q21","big":394,"bigYoY":2.6,"small":54.9,"smallYoY":34},
{"q":"4Q21","big":268,"bigYoY":8.3,"small":72.7,"smallYoY":13.8},
{"q":"1Q22","big":336,"bigYoY":-38.9,"small":44.6,"smallYoY":-27.5},
{"q":"2Q22","big":199,"bigYoY":-53.6,"small":68.6,"smallYoY":-18.3},
{"q":"3Q22","big":210,"bigYoY":-46.9,"small":56.6,"smallYoY":2.8},
{"q":"4Q22","big":186,"bigYoY":-30,"small":31,"smallYoY":-56},
{"q":"1Q23","big":210,"bigYoY":-36.7,"small":51.5,"smallYoY":13.8},
{"q":"2Q23","big":164,"bigYoY":-16.6,"small":147,"smallYoY":111},
{"q":"3Q23","big":145,"bigYoY":-30,"small":116,"smallYoY":102.8},
{"q":"4Q23","big":75,"bigYoY":-59.6,"small":121.9,"smallYoY":263},
{"q":"1Q24","big":225,"bigYoY":7,"small":146,"smallYoY":183.5},
{"q":"2Q24","big":164,"bigYoY":-0.6,"small":192.2,"smallYoY":28.4}
]
},
"layer": [
{"data":{"values":[{}]},"mark":{"type":"rect","color":"#d9d9d9"},"encoding":{"x":{"value":149},"x2":{"value":155},"y":{"value":89},"y2":{"value":153}}},
{"data":{"values":[{}]},"mark":{"type":"rule","color":"#d9d9d9","strokeWidth":2},"encoding":{"x":{"value":149},"x2":{"value":1150},"y":{"value":153}}},
{"data":{"values":[{}]},"mark":{"type":"text","text":"화장품","align":"left","baseline":"middle","fontSize":19.5,"fontWeight":"bold","color":"#1f4e9c"},"encoding":{"x":{"value":165},"y":{"value":105}}},
{"data":{"values":[{}]},"mark":{"type":"text","text":"Beauty Beyond Borders","align":"left","baseline":"middle","font":"Noto Sans","fontSize":17.5,"letterSpacing":0.6,"color":"#808080"},"encoding":{"x":{"value":165},"y":{"value":138}}},
{"data":{"values":[{}]},"mark":{"type":"text","text":"2024/10/10","align":"right","baseline":"middle","font":"Noto Sans","fontSize":17.5,"letterSpacing":0.4,"color":"#808080"},"encoding":{"x":{"value":1133},"y":{"value":132}}},

{"data":{"values":[{}]},"mark":{"type":"rule","color":"#44546a","strokeWidth":3.5},"encoding":{"x":{"value":332},"x2":{"value":1112},"y":{"value":237}}},
{"data":{"values":[{}]},"mark":{"type":"rule","color":"#b4c2d8","strokeWidth":2},"encoding":{"x":{"value":332},"x2":{"value":1112},"y":{"value":269}}},
{"data":{"values":[{}]},"mark":{"type":"text","text":"[도표 12] 2024 년 ODM 4 사 주가 추이","align":"left","baseline":"middle","fontSize":17,"color":"#000000"},"encoding":{"x":{"value":338},"y":{"value":253}}},
{"data":{"values":[{}]},"mark":{"type":"rule","color":"#d9d9d9","strokeWidth":2},"encoding":{"x":{"value":332},"x2":{"value":1112},"y":{"value":627}}},
{"data":{"values":[{}]},"mark":{"type":"text","text":"자료: Quantiwise, 교보증권 리서치센터","align":"left","baseline":"middle","fontSize":12.5,"color":"#000000"},"encoding":{"x":{"value":325},"y":{"value":637}}},

{"data":{"values":[{}]},"mark":{"type":"rule","color":"#0c1f7a","strokeWidth":4},"encoding":{"x":{"value":148},"x2":{"value":618},"y":{"value":679}}},
{"data":{"values":[{}]},"mark":{"type":"rule","color":"#0c1f7a","strokeWidth":1.5},"encoding":{"x":{"value":148},"x2":{"value":618},"y":{"value":711}}},
{"data":{"values":[{}]},"mark":{"type":"text","text":"[도표 13] 2024 년 중소형 브랜드사 주가 추이","align":"left","baseline":"middle","fontSize":17,"color":"#000000"},"encoding":{"x":{"value":155},"y":{"value":694}}},
{"data":{"values":[{}]},"mark":{"type":"rule","color":"#d9d9d9","strokeWidth":2},"encoding":{"x":{"value":143},"x2":{"value":618},"y":{"value":1051}}},
{"data":{"values":[{}]},"mark":{"type":"text","text":"자료: Quantiwise, 교보증권 리서치센터","align":"left","baseline":"middle","fontSize":12.5,"color":"#000000"},"encoding":{"x":{"value":143},"y":{"value":1061}}},

{"data":{"values":[{}]},"mark":{"type":"rule","color":"#0c1f7a","strokeWidth":4},"encoding":{"x":{"value":642},"x2":{"value":1112},"y":{"value":679}}},
{"data":{"values":[{}]},"mark":{"type":"rule","color":"#0c1f7a","strokeWidth":1.5},"encoding":{"x":{"value":642},"x2":{"value":1112},"y":{"value":711}}},
{"data":{"values":[{}]},"mark":{"type":"text","text":"[도표 14] 2024 년 대형 브랜드사 주가 추이","align":"left","baseline":"middle","fontSize":17,"color":"#000000"},"encoding":{"x":{"value":650},"y":{"value":694}}},
{"data":{"values":[{}]},"mark":{"type":"rule","color":"#d9d9d9","strokeWidth":2},"encoding":{"x":{"value":635},"x2":{"value":1112},"y":{"value":1051}}},
{"data":{"values":[{}]},"mark":{"type":"text","text":"자료: Quantiwise, 교보증권 리서치센터","align":"left","baseline":"middle","fontSize":12.5,"color":"#000000"},"encoding":{"x":{"value":635},"y":{"value":1061}}},

{"data":{"values":[{}]},"mark":{"type":"rule","color":"#44546a","strokeWidth":3.5},"encoding":{"x":{"value":332},"x2":{"value":1112},"y":{"value":1103}}},
{"data":{"values":[{}]},"mark":{"type":"rule","color":"#b4c2d8","strokeWidth":2},"encoding":{"x":{"value":332},"x2":{"value":1112},"y":{"value":1133}}},
{"data":{"values":[{}]},"mark":{"type":"text","text":"[도표 15] 대형브랜드사 Vs. ODM+중소형 브랜드사 합산 영업이익 및 YoY% 추이","align":"left","baseline":"middle","fontSize":17,"color":"#000000"},"encoding":{"x":{"value":338},"y":{"value":1118}}},
{"data":{"values":[{}]},"mark":{"type":"rule","color":"#d9d9d9","strokeWidth":2},"encoding":{"x":{"value":332},"x2":{"value":1112},"y":{"value":1562}}},
{"data":{"values":[{}]},"mark":{"type":"text","text":"자료: Quantiwise, 교보증권 리서치센터","align":"left","baseline":"middle","fontSize":12.5,"color":"#000000"},"encoding":{"x":{"value":325},"y":{"value":1574}}},

{"data":{"values":[{}]},"mark":{"type":"text","text":["대형 브랜드사보다는","ODM+중소형 브랜드","중심 이익 개선 고무적"],"lineHeight":25.5,"align":"left","baseline":"middle","fontSize":17.5,"color":"#4a72c2"},"encoding":{"x":{"value":120},"y":{"value":1179}}},

{"data":{"values":[{}]},"mark":{"type":"text","text":"KYOBO","align":"left","baseline":"middle","font":"Liberation Sans","fontSize":15,"fontWeight":"bold","letterSpacing":1.5,"color":"#1f3a6e"},"encoding":{"x":{"value":482},"y":{"value":1630}}},
{"data":{"values":[{}]},"mark":{"type":"text","text":"Securities","align":"left","baseline":"middle","font":"Roboto","fontSize":14,"color":"#1f3a6e"},"encoding":{"x":{"value":544},"y":{"value":1630}}},
{"data":{"values":[{}]},"mark":{"type":"text","text":"9","align":"left","baseline":"middle","font":"Roboto","fontSize":25,"color":"#8faadc"},"encoding":{"x":{"value":613},"y":{"value":1627}}},
{"data":{"values":[{}]},"mark":{"type":"text","text":"Research Center","align":"left","baseline":"middle","font":"Roboto","fontSize":18.5,"color":"#bfbfbf"},"encoding":{"x":{"value":638},"y":{"value":1631}}},

{
 "encoding": {
  "x": {"field":"date","type":"temporal","scale":{"type":"utc","domain":[{"year":2024,"month":1,"date":1,"utc":true},{"year":2025,"month":1,"date":1,"utc":true}],"range":[381,1094],"nice":false},
        "axis":{"orient":"bottom","offset":-1174,"title":null,"values":[{"year":2024,"month":1,"date":1,"utc":true},{"year":2024,"month":2,"date":1,"utc":true},{"year":2024,"month":3,"date":1,"utc":true},{"year":2024,"month":4,"date":1,"utc":true},{"year":2024,"month":5,"date":1,"utc":true},{"year":2024,"month":6,"date":1,"utc":true},{"year":2024,"month":7,"date":1,"utc":true},{"year":2024,"month":8,"date":1,"utc":true},{"year":2024,"month":9,"date":1,"utc":true},{"year":2024,"month":10,"date":1,"utc":true},{"year":2024,"month":11,"date":1,"utc":true},{"year":2024,"month":12,"date":1,"utc":true}],
        "labelExpr":"utcFormat(datum.value, '%y.%-m')","tickSize":-5,"labelPadding":18,"domainColor":"#595959","domainWidth":1.5,"tickColor":"#595959","labelFontSize":11.5}},
  "y": {"field":"value","type":"quantitative","scale":{"domain":[0,300],"range":[581,328],"nice":false,"zero":false},
        "axis":{"orient":"left","offset":-381,"values":[0,50,100,150,200,250,300],"tickSize":-5,"labelPadding":19,"labelFontSize":11.5,"title":"(24.1=100)","titleAngle":0,"titleX":-29,"titleY":306,"titleAlign":"left","titleBaseline":"middle","titleFont":"Liberation Sans","titleFontSize":11.5}}
 },
 "layer": [
  {"data":{"name":"c12"},"transform":[{"filter":"datum.series !== 'ODM사'"}],"mark":{"type":"line"},
   "encoding":{
    "color":{"field":"series","type":"nominal","scale":{"domain":["코스맥스","한국콜마","코스메카코리아","씨앤씨인터내셔널","코스피","ODM사"],"range":["#7f7f7f","#b4c7e7","#dae3f3","#8c8c8c","#404040","#0a39a0"]},
      "legend":{"orient":"none","direction":"horizontal","legendX":457,"legendY":292,"columns":3,"title":null,"symbolType":"stroke","symbolSize":1444,"clipHeight":14,"rowPadding":14,"columnPadding":59,"gridAlign":"all","labelOffset":3}},
    "strokeDash":{"field":"series","type":"nominal","scale":{"domain":["코스맥스","한국콜마","코스메카코리아","씨앤씨인터내셔널","코스피","ODM사"],"range":[[1,0],[1,0],[1,0],[4,2],[7,3],[1,0]]}},
    "strokeWidth":{"field":"series","type":"nominal","scale":{"domain":["코스맥스","한국콜마","코스메카코리아","씨앤씨인터내셔널","코스피","ODM사"],"range":[2,2,2,1.8,3,3.2]}}}},
  {"data":{"name":"kospi"},"mark":{"type":"line"},
   "encoding":{
    "color":{"field":"series","type":"nominal","scale":{"domain":["코스맥스","한국콜마","코스메카코리아","씨앤씨인터내셔널","코스피","ODM사"],"range":["#7f7f7f","#b4c7e7","#dae3f3","#8c8c8c","#404040","#0a39a0"]}},
    "strokeDash":{"field":"series","type":"nominal","scale":{"domain":["코스맥스","한국콜마","코스메카코리아","씨앤씨인터내셔널","코스피","ODM사"],"range":[[1,0],[1,0],[1,0],[4,2],[7,3],[1,0]]}},
    "strokeWidth":{"field":"series","type":"nominal","scale":{"domain":["코스맥스","한국콜마","코스메카코리아","씨앤씨인터내셔널","코스피","ODM사"],"range":[2,2,2,1.8,3,3.2]}}}},
  {"data":{"name":"c12"},"transform":[{"filter":"datum.series === 'ODM사'"}],"mark":{"type":"line"},
   "encoding":{
    "color":{"field":"series","type":"nominal","scale":{"domain":["코스맥스","한국콜마","코스메카코리아","씨앤씨인터내셔널","코스피","ODM사"],"range":["#7f7f7f","#b4c7e7","#dae3f3","#8c8c8c","#404040","#0a39a0"]}},
    "strokeDash":{"field":"series","type":"nominal","scale":{"domain":["코스맥스","한국콜마","코스메카코리아","씨앤씨인터내셔널","코스피","ODM사"],"range":[[1,0],[1,0],[1,0],[4,2],[7,3],[1,0]]}},
    "strokeWidth":{"field":"series","type":"nominal","scale":{"domain":["코스맥스","한국콜마","코스메카코리아","씨앤씨인터내셔널","코스피","ODM사"],"range":[2,2,2,1.8,3,3.2]}}}},
  {"data":{"values":[{}]},"mark":{"type":"text","text":"연초이후","align":"left","baseline":"middle","fontSize":11.5,"color":"#595959"},"encoding":{"x":{"datum":{"year":2024,"month":10,"date":12,"utc":true},"type":"temporal"},"y":{"datum":283,"type":"quantitative"}}},
  {"data":{"values":[{}]},"mark":{"type":"text","text":"코스메카+127%","align":"left","baseline":"middle","fontSize":11.5,"color":"#595959"},"encoding":{"x":{"datum":{"year":2024,"month":10,"date":12,"utc":true},"type":"temporal"},"y":{"datum":260,"type":"quantitative"}}},
  {"data":{"values":[{}]},"mark":{"type":"text","text":"씨앤씨+41%","align":"left","baseline":"middle","fontSize":11.5,"color":"#595959"},"encoding":{"x":{"datum":{"year":2024,"month":10,"date":12,"utc":true},"type":"temporal"},"y":{"datum":191,"type":"quantitative"}}},
  {"data":{"values":[{}]},"mark":{"type":"text","text":"한국콜마+39%","align":"left","baseline":"middle","fontSize":11.5,"color":"#595959"},"encoding":{"x":{"datum":{"year":2024,"month":10,"date":12,"utc":true},"type":"temporal"},"y":{"datum":160,"type":"quantitative"}}},
  {"data":{"values":[{}]},"mark":{"type":"text","text":"ODM 4사 +38%","align":"left","baseline":"middle","fontSize":11.5,"color":"#595959"},"encoding":{"x":{"datum":{"year":2024,"month":10,"date":12,"utc":true},"type":"temporal"},"y":{"datum":115,"type":"quantitative"}}},
  {"data":{"values":[{}]},"mark":{"type":"text","text":"코스맥스+11%","align":"left","baseline":"middle","fontSize":11.5,"color":"#595959"},"encoding":{"x":{"datum":{"year":2024,"month":10,"date":12,"utc":true},"type":"temporal"},"y":{"datum":94,"type":"quantitative"}}}
 ]
},

{
 "encoding": {
  "x": {"field":"date","type":"temporal","scale":{"type":"utc","domain":[{"year":2024,"month":1,"date":1,"utc":true},{"year":2025,"month":2,"date":1,"utc":true}],"range":[199,605],"nice":false},
        "axis":{"orient":"bottom","offset":-744,"title":null,"values":[{"year":2024,"month":1,"date":1,"utc":true},{"year":2024,"month":3,"date":1,"utc":true},{"year":2024,"month":5,"date":1,"utc":true},{"year":2024,"month":7,"date":1,"utc":true},{"year":2024,"month":9,"date":1,"utc":true},{"year":2024,"month":11,"date":1,"utc":true},{"year":2025,"month":1,"date":1,"utc":true}],
        "labelExpr":"utcFormat(datum.value, '%y.%-m')","tickSize":-5,"labelPadding":16,"domainColor":"#595959","domainWidth":2,"tickColor":"#595959","labelFontSize":11.5}},
  "y": {"field":"value","type":"quantitative","scale":{"domain":[0,350],"range":[1011,764],"nice":false,"zero":false},
        "axis":{"orient":"left","offset":-199,"values":[0,50,100,150,200,250,300,350],"tickSize":-5,"labelPadding":16,"labelFontSize":11.5,"title":"(24.1=100)","titleAngle":0,"titleX":-31,"titleY":744,"titleAlign":"left","titleBaseline":"middle","titleFont":"Liberation Sans","titleFontSize":11.5}}
 },
 "layer": [
  {"data":{"name":"c13"},"transform":[{"filter":"datum.series !== '클리오'"}],"mark":{"type":"line"},
   "encoding":{
    "color":{"field":"series","type":"nominal","scale":{"domain":["클리오","아이패밀리에스씨","브이티","코스피","중소 브랜드사"],"range":["#0a39a0","#b4c7e7","#dae3f3","#8c8c8c","#d0d0d0"]},
      "legend":{"orient":"none","direction":"horizontal","legendX":255,"legendY":734,"columns":2,"title":null,"symbolType":"stroke","symbolSize":1369,"clipHeight":14,"rowPadding":6,"columnPadding":41,"gridAlign":"all","labelOffset":3}},
    "strokeDash":{"field":"series","type":"nominal","scale":{"domain":["클리오","아이패밀리에스씨","브이티","코스피","중소 브랜드사"],"range":[[1,0],[1,0],[1,0],[3,2],[1,0]]}},
    "strokeWidth":{"field":"series","type":"nominal","scale":{"domain":["클리오","아이패밀리에스씨","브이티","코스피","중소 브랜드사"],"range":[2,2,2,2,2.5]}}}},
  {"data":{"name":"kospi"},"mark":{"type":"line"},
   "encoding":{
    "color":{"field":"series","type":"nominal","scale":{"domain":["클리오","아이패밀리에스씨","브이티","코스피","중소 브랜드사"],"range":["#0a39a0","#b4c7e7","#dae3f3","#8c8c8c","#d0d0d0"]}},
    "strokeDash":{"field":"series","type":"nominal","scale":{"domain":["클리오","아이패밀리에스씨","브이티","코스피","중소 브랜드사"],"range":[[1,0],[1,0],[1,0],[3,2],[1,0]]}},
    "strokeWidth":{"field":"series","type":"nominal","scale":{"domain":["클리오","아이패밀리에스씨","브이티","코스피","중소 브랜드사"],"range":[2,2,2,2,2.5]}}}},
  {"data":{"name":"c13"},"transform":[{"filter":"datum.series === '클리오'"}],"mark":{"type":"line"},
   "encoding":{
    "color":{"field":"series","type":"nominal","scale":{"domain":["클리오","아이패밀리에스씨","브이티","코스피","중소 브랜드사"],"range":["#0a39a0","#b4c7e7","#dae3f3","#8c8c8c","#d0d0d0"]}},
    "strokeDash":{"field":"series","type":"nominal","scale":{"domain":["클리오","아이패밀리에스씨","브이티","코스피","중소 브랜드사"],"range":[[1,0],[1,0],[1,0],[3,2],[1,0]]}},
    "strokeWidth":{"field":"series","type":"nominal","scale":{"domain":["클리오","아이패밀리에스씨","브이티","코스피","중소 브랜드사"],"range":[2,2,2,2,2.5]}}}},
  {"data":{"values":[{}]},"mark":{"type":"text","text":"연초이후","align":"left","baseline":"middle","fontSize":11.5,"color":"#595959"},"encoding":{"x":{"datum":{"year":2024,"month":10,"date":15,"utc":true},"type":"temporal"},"y":{"datum":256,"type":"quantitative"}}},
  {"data":{"values":[{}]},"mark":{"type":"text","text":"브이티 +111%","align":"left","baseline":"middle","fontSize":11.5,"color":"#595959"},"encoding":{"x":{"datum":{"year":2024,"month":10,"date":15,"utc":true},"type":"temporal"},"y":{"datum":230,"type":"quantitative"}}},
  {"data":{"values":[{}]},"mark":{"type":"text","text":"아이패밀리 +81%","align":"left","baseline":"middle","fontSize":11.5,"color":"#595959"},"encoding":{"x":{"datum":{"year":2024,"month":10,"date":15,"utc":true},"type":"temporal"},"y":{"datum":200,"type":"quantitative"}}},
  {"data":{"values":[{}]},"mark":{"type":"text","text":"중소브랜드사 +57%","align":"left","baseline":"middle","fontSize":11.5,"color":"#595959"},"encoding":{"x":{"datum":{"year":2024,"month":10,"date":15,"utc":true},"type":"temporal"},"y":{"datum":168,"type":"quantitative"}}},
  {"data":{"values":[{}]},"mark":{"type":"text","text":"클리오 -9%","align":"left","baseline":"middle","fontSize":11.5,"color":"#595959"},"encoding":{"x":{"datum":{"year":2024,"month":10,"date":15,"utc":true},"type":"temporal"},"y":{"datum":95,"type":"quantitative"}}}
 ]
},

{
 "encoding": {
  "x": {"field":"date","type":"temporal","scale":{"type":"utc","domain":[{"year":2024,"month":1,"date":1,"utc":true},{"year":2025,"month":2,"date":1,"utc":true}],"range":[694,1099],"nice":false},
        "axis":{"orient":"bottom","offset":-744,"title":null,"values":[{"year":2024,"month":1,"date":1,"utc":true},{"year":2024,"month":3,"date":1,"utc":true},{"year":2024,"month":5,"date":1,"utc":true},{"year":2024,"month":7,"date":1,"utc":true},{"year":2024,"month":9,"date":1,"utc":true},{"year":2024,"month":11,"date":1,"utc":true},{"year":2025,"month":1,"date":1,"utc":true}],
        "labelExpr":"utcFormat(datum.value, '%y.%-m')","tickSize":-5,"labelPadding":16,"domainColor":"#595959","domainWidth":2,"tickColor":"#595959","labelFontSize":11.5}},
  "y": {"field":"value","type":"quantitative","scale":{"domain":[70,140],"range":[1011,764],"nice":false,"zero":false},
        "axis":{"orient":"left","offset":-694,"values":[70,80,90,100,110,120,130,140],"tickSize":-5,"labelPadding":18,"labelFontSize":11.5,"title":"(24.1=100)","titleAngle":0,"titleX":-31,"titleY":744,"titleAlign":"left","titleBaseline":"middle","titleFont":"Liberation Sans","titleFontSize":11.5}}
 },
 "layer": [
  {"data":{"name":"c14"},"transform":[{"filter":"datum.series !== '대형 브랜드사'"}],"mark":{"type":"line"},
   "encoding":{
    "color":{"field":"series","type":"nominal","scale":{"domain":["아모레퍼시픽","LG생활건강","코스피","대형 브랜드사"],"range":["#b4c7e7","#dae3f3","#000000","#1546a6"]},
      "legend":{"orient":"none","direction":"horizontal","legendX":748,"legendY":737,"columns":2,"title":null,"symbolType":"stroke","symbolSize":1369,"clipHeight":14,"rowPadding":14,"columnPadding":67,"gridAlign":"all","labelOffset":3}},
    "strokeDash":{"field":"series","type":"nominal","scale":{"domain":["아모레퍼시픽","LG생활건강","코스피","대형 브랜드사"],"range":[[1,0],[1,0],[4,2],[1,0]]}},
    "strokeWidth":{"field":"series","type":"nominal","scale":{"domain":["아모레퍼시픽","LG생활건강","코스피","대형 브랜드사"],"range":[2,2,2,2.2]}}}},
  {"data":{"name":"kospi"},"mark":{"type":"line"},
   "encoding":{
    "color":{"field":"series","type":"nominal","scale":{"domain":["아모레퍼시픽","LG생활건강","코스피","대형 브랜드사"],"range":["#b4c7e7","#dae3f3","#000000","#1546a6"]}},
    "strokeDash":{"field":"series","type":"nominal","scale":{"domain":["아모레퍼시픽","LG생활건강","코스피","대형 브랜드사"],"range":[[1,0],[1,0],[4,2],[1,0]]}},
    "strokeWidth":{"field":"series","type":"nominal","scale":{"domain":["아모레퍼시픽","LG생활건강","코스피","대형 브랜드사"],"range":[2,2,2,2.2]}}}},
  {"data":{"name":"c14"},"transform":[{"filter":"datum.series === '대형 브랜드사'"}],"mark":{"type":"line"},
   "encoding":{
    "color":{"field":"series","type":"nominal","scale":{"domain":["아모레퍼시픽","LG생활건강","코스피","대형 브랜드사"],"range":["#b4c7e7","#dae3f3","#000000","#1546a6"]}},
    "strokeDash":{"field":"series","type":"nominal","scale":{"domain":["아모레퍼시픽","LG생활건강","코스피","대형 브랜드사"],"range":[[1,0],[1,0],[4,2],[1,0]]}},
    "strokeWidth":{"field":"series","type":"nominal","scale":{"domain":["아모레퍼시픽","LG생활건강","코스피","대형 브랜드사"],"range":[2,2,2,2.2]}}}},
  {"data":{"values":[{}]},"mark":{"type":"text","text":"LG생활건강 +8%","align":"left","baseline":"middle","fontSize":11.5,"color":"#595959"},"encoding":{"x":{"datum":{"year":2024,"month":10,"date":13,"utc":true},"type":"temporal"},"y":{"datum":111.5,"type":"quantitative"}}},
  {"data":{"values":[{}]},"mark":{"type":"text","text":"대형 브랜드사 -3%","align":"left","baseline":"middle","fontSize":11.5,"color":"#595959"},"encoding":{"x":{"datum":{"year":2024,"month":10,"date":13,"utc":true},"type":"temporal"},"y":{"datum":101.3,"type":"quantitative"}}},
  {"data":{"values":[{}]},"mark":{"type":"text","text":"아모레퍼시픽 -10%","align":"left","baseline":"middle","fontSize":11.5,"color":"#595959"},"encoding":{"x":{"datum":{"year":2024,"month":10,"date":13,"utc":true},"type":"temporal"},"y":{"datum":91.2,"type":"quantitative"}}}
 ]
},

{
 "data": {"name":"q15"},
 "encoding": {
  "x": {"field":"q","type":"nominal","sort":null,"scale":{"type":"band","domain":["1Q21","2Q21","3Q21","4Q21","1Q22","2Q22","3Q22","4Q22","1Q23","2Q23","3Q23","4Q23","1Q24","2Q24"],"range":[385,1069],"paddingInner":0.69,"paddingOuter":0.345},
        "axis":{"orient":"bottom","offset":-433,"title":null,"labelAngle":0,"tickBand":"extent","tickSize":-4,"labelPadding":17,"domainColor":"#404040","tickColor":"#404040"}}
 },
 "layer": [
  {"mark":{"type":"bar"},
   "encoding":{
    "y":{"field":"big","type":"quantitative","scale":{"domain":[0,600],"range":[1322,1175],"nice":false},
         "axis":{"orient":"left","offset":-385,"values":[0,100,200,300,400,500,600],"tickSize":4,"labelPadding":13,"domainColor":"#404040","tickColor":"#404040","title":"(십억원)","titleAngle":0,"titleX":-35,"titleY":1163,"titleAlign":"left","titleBaseline":"middle","titleFontSize":12.5}},
    "fill":{"datum":"대형 브랜드 2사 영업이익","type":"nominal","scale":{"range":["#bfbfbf"]},
         "legend":{"orient":"none","legendX":582,"legendY":1160,"title":null,"symbolType":"M-1,-0.36H1V0.36H-1Z","symbolSize":784,"symbolStrokeWidth":0,"clipHeight":14,"labelOffset":5,"labelFontSize":13}}}},
  {"mark":{"type":"line","strokeWidth":2.2},
   "encoding":{
    "y":{"field":"bigYoY","type":"quantitative","scale":{"domain":[-80,60],"range":[1322,1175],"nice":false,"zero":false},
         "axis":{"orient":"right","offset":-172,"values":[-80,-60,-40,-20,0,20,40,60],"tickSize":4,"labelPadding":7,"domainColor":"#404040","tickColor":"#404040",
                 "labelExpr":"datum.value < 0 ? '(' + abs(datum.value) + ')' : datum.value",
                 "labelColor":{"condition":{"test":"datum.value < 0","value":"#d40000"},"value":"#222222"},
                 "title":"(%)","titleAngle":0,"titleX":-4,"titleY":1163,"titleAlign":"left","titleBaseline":"middle","titleFontSize":12.5}},
    "stroke":{"datum":"YoY%(우)","type":"nominal","scale":{"range":["#1f3f99"]},
         "legend":{"orient":"none","legendX":775,"legendY":1160,"title":null,"symbolType":"stroke","symbolSize":961,"symbolStrokeWidth":2.5,"clipHeight":14,"labelOffset":3,"labelFontSize":13}}}}
 ],
 "resolve": {"scale": {"y":"independent"}, "axis": {"y":"independent"}}
},

{
 "data": {"name":"q15"},
 "encoding": {
  "x": {"field":"q","type":"nominal","sort":null,"scale":{"type":"band","domain":["1Q21","2Q21","3Q21","4Q21","1Q22","2Q22","3Q22","4Q22","1Q23","2Q23","3Q23","4Q23","1Q24","2Q24"],"range":[386,1065],"paddingInner":0.69,"paddingOuter":0.345},
        "axis":{"orient":"bottom","offset":-241,"title":null,"labelAngle":0,"tickBand":"extent","tickSize":-4,"labelPadding":17,"domainColor":"#404040","tickColor":"#404040"}}
 },
 "layer": [
  {"mark":{"type":"bar"},
   "encoding":{
    "y":{"field":"small","type":"quantitative","scale":{"domain":[0,250],"range":[1514,1369],"nice":false},
         "axis":{"orient":"left","offset":-386,"values":[0,50,100,150,200,250],"tickSize":4,"labelPadding":13,"domainColor":"#404040","tickColor":"#404040","title":"(십억원)","titleAngle":0,"titleX":-36,"titleY":1357,"titleAlign":"left","titleBaseline":"middle","titleFontSize":12.5}},
    "fill":{"datum":"ODM+중소형 브랜드사 영업이익","type":"nominal","scale":{"range":["#bfbfbf"]},
         "legend":{"orient":"none","legendX":563,"legendY":1354,"title":null,"symbolType":"M-1,-0.36H1V0.36H-1Z","symbolSize":784,"symbolStrokeWidth":0,"clipHeight":14,"labelOffset":5,"labelFontSize":13}}}},
  {"mark":{"type":"line","strokeWidth":2.2},
   "encoding":{
    "y":{"field":"smallYoY","type":"quantitative","scale":{"domain":[-100,300],"range":[1514,1369],"nice":false,"zero":false},
         "axis":{"orient":"right","offset":-176,"values":[-100,0,100,200,300],"tickSize":4,"labelPadding":5,"domainColor":"#404040","tickColor":"#404040",
                 "labelExpr":"datum.value < 0 ? '(' + abs(datum.value) + ')' : datum.value",
                 "labelColor":{"condition":{"test":"datum.value < 0","value":"#d40000"},"value":"#222222"},
                 "title":"(%)","titleAngle":0,"titleX":5,"titleY":1357,"titleAlign":"left","titleBaseline":"middle","titleFontSize":12.5}},
    "stroke":{"datum":"YoY%(우)","type":"nominal","scale":{"range":["#1f3f99"]},
         "legend":{"orient":"none","legendX":800,"legendY":1354,"title":null,"symbolType":"stroke","symbolSize":961,"symbolStrokeWidth":2.5,"clipHeight":14,"labelOffset":3,"labelFontSize":13}}}}
 ],
 "resolve": {"scale": {"y":"independent"}, "axis": {"y":"independent"}}
},

{"data":{"values":[{}]},"mark":{"type":"rect","filled":false,"stroke":"#000000","strokeWidth":2,"strokeDash":[7,4]},"encoding":{"x":{"value":972},"x2":{"value":1069},"y":{"value":1170},"y2":{"value":1550}}},
{"data":{"values":[{}]},"mark":{"type":"text","text":["대형 브랜드사 VS.","ODM 중소형브랜드사","실적 차별화"],"lineHeight":19,"align":"left","baseline":"middle","fontSize":12.5,"color":"#595959"},"encoding":{"x":{"value":943},"y":{"value":1357}}}
],
"resolve": {
 "scale": {"x":"independent","y":"independent","color":"independent","strokeDash":"independent","strokeWidth":"independent","fill":"independent","stroke":"independent"},
 "axis": {"x":"independent","y":"independent"},
 "legend": {"color":"independent","strokeDash":"independent","strokeWidth":"independent","fill":"independent","stroke":"independent"}
}
}
